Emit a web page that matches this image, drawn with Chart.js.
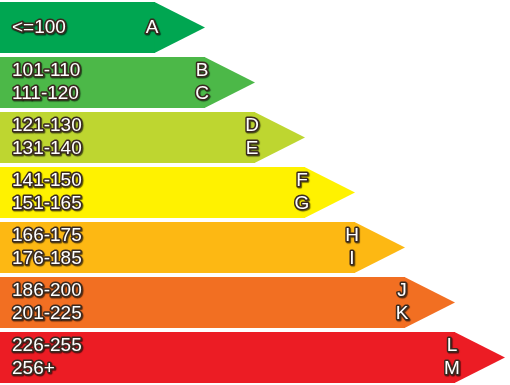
<!DOCTYPE html>
<html>
<head>
<meta charset="utf-8">
<script src="https://cdn.jsdelivr.net/npm/chart.js@4"></script>
<style>
    html, body { margin: 0; padding: 0; background: #fff; }
    #wrap { width: 510px; height: 385px; }
</style>
</head>
<body>
<div id="wrap"><canvas id="myChart"></canvas></div>
<script>
// energy classes, top to bottom
const classes = ['A', 'B', 'C', 'D', 'E', 'F', 'G'];
const ranges = [['<=100'], ['101-110', '111-120'], ['121-130', '131-140'], ['141-150', '151-165'],
    ['166-175', '176-185'], ['186-200', '201-225'], ['226-255', '256+']];
const letters = [['A'], ['B', 'C'], ['D', 'E'], ['F', 'G'], ['H', 'I'], ['J', 'K'], ['L', 'M']];
const levels = [1, 2, 3, 4, 5, 6, 7];
const colors = ['#00a651', '#4cb848', '#bed630', '#fff200', '#fdb813', '#f26f22', '#ec1c24'];

const axisMin = -2.1;
const axisMax = 8.1;

const arrowPlugin = {
    id: 'arrows',
    afterDatasetsDraw(chart) {
        const ctx = chart.ctx;
        const bars = chart.getDatasetMeta(0).data;
        ctx.save();
        bars.forEach((bar, i) => {
            const h = bar.height;
            const top = bar.y - h / 2;
            const bottom = bar.y + h / 2;
            const end = Math.max(bar.x, bar.base);
            // arrow tip
            ctx.fillStyle = colors[i];
            ctx.beginPath();
            ctx.moveTo(end - 0.5, top);
            ctx.lineTo(end + 50, bar.y);
            ctx.lineTo(end - 0.5, bottom);
            ctx.closePath();
            ctx.fill();

            // labels
            ctx.font = '19px "Liberation Sans", Arial, sans-serif';
            ctx.textBaseline = 'middle';
            ctx.lineJoin = 'round';
            const n = ranges[i].length;
            const step = 23;
            ranges[i].forEach((txt, k) => {
                const y = bar.y + (k - (n - 1) / 2) * step;
                ctx.textAlign = 'left';
                drawOutlined(ctx, txt, 12, y);
                ctx.textAlign = 'center';
                drawOutlined(ctx, letters[i][k], end - 3, y);
            });
        });
        ctx.restore();
    }
};

function drawOutlined(ctx, txt, x, y) {
    ctx.lineWidth = 3;
    ctx.strokeStyle = '#3a2a20';
    ctx.shadowColor = 'rgba(0,0,0,0.6)';
    ctx.shadowOffsetX = 1;
    ctx.shadowOffsetY = 1;
    ctx.shadowBlur = 1;
    ctx.strokeText(txt, x, y);
    ctx.shadowColor = 'transparent';
    ctx.fillStyle = '#ffffff';
    ctx.fillText(txt, x, y);
}

const ctx = document.getElementById('myChart').getContext('2d');
new Chart(ctx, {
    type: 'bar',
    data: {
        labels: classes,
        datasets: [{
            data: levels.map(v => [axisMin, v]),
            backgroundColor: colors,
            borderWidth: 0,
            barPercentage: 0.93,
            categoryPercentage: 1
        }]
    },
    options: {
        indexAxis: 'y',
        responsive: true,
        maintainAspectRatio: false,
        animation: false,
        layout: { padding: 0 },
        plugins: {
            legend: { display: false },
            tooltip: { enabled: false }
        },
        scales: {
            x: { display: false, min: axisMin, max: axisMax },
            y: { display: false }
        }
    },
    plugins: [arrowPlugin]
});
</script>
</body>
</html>
